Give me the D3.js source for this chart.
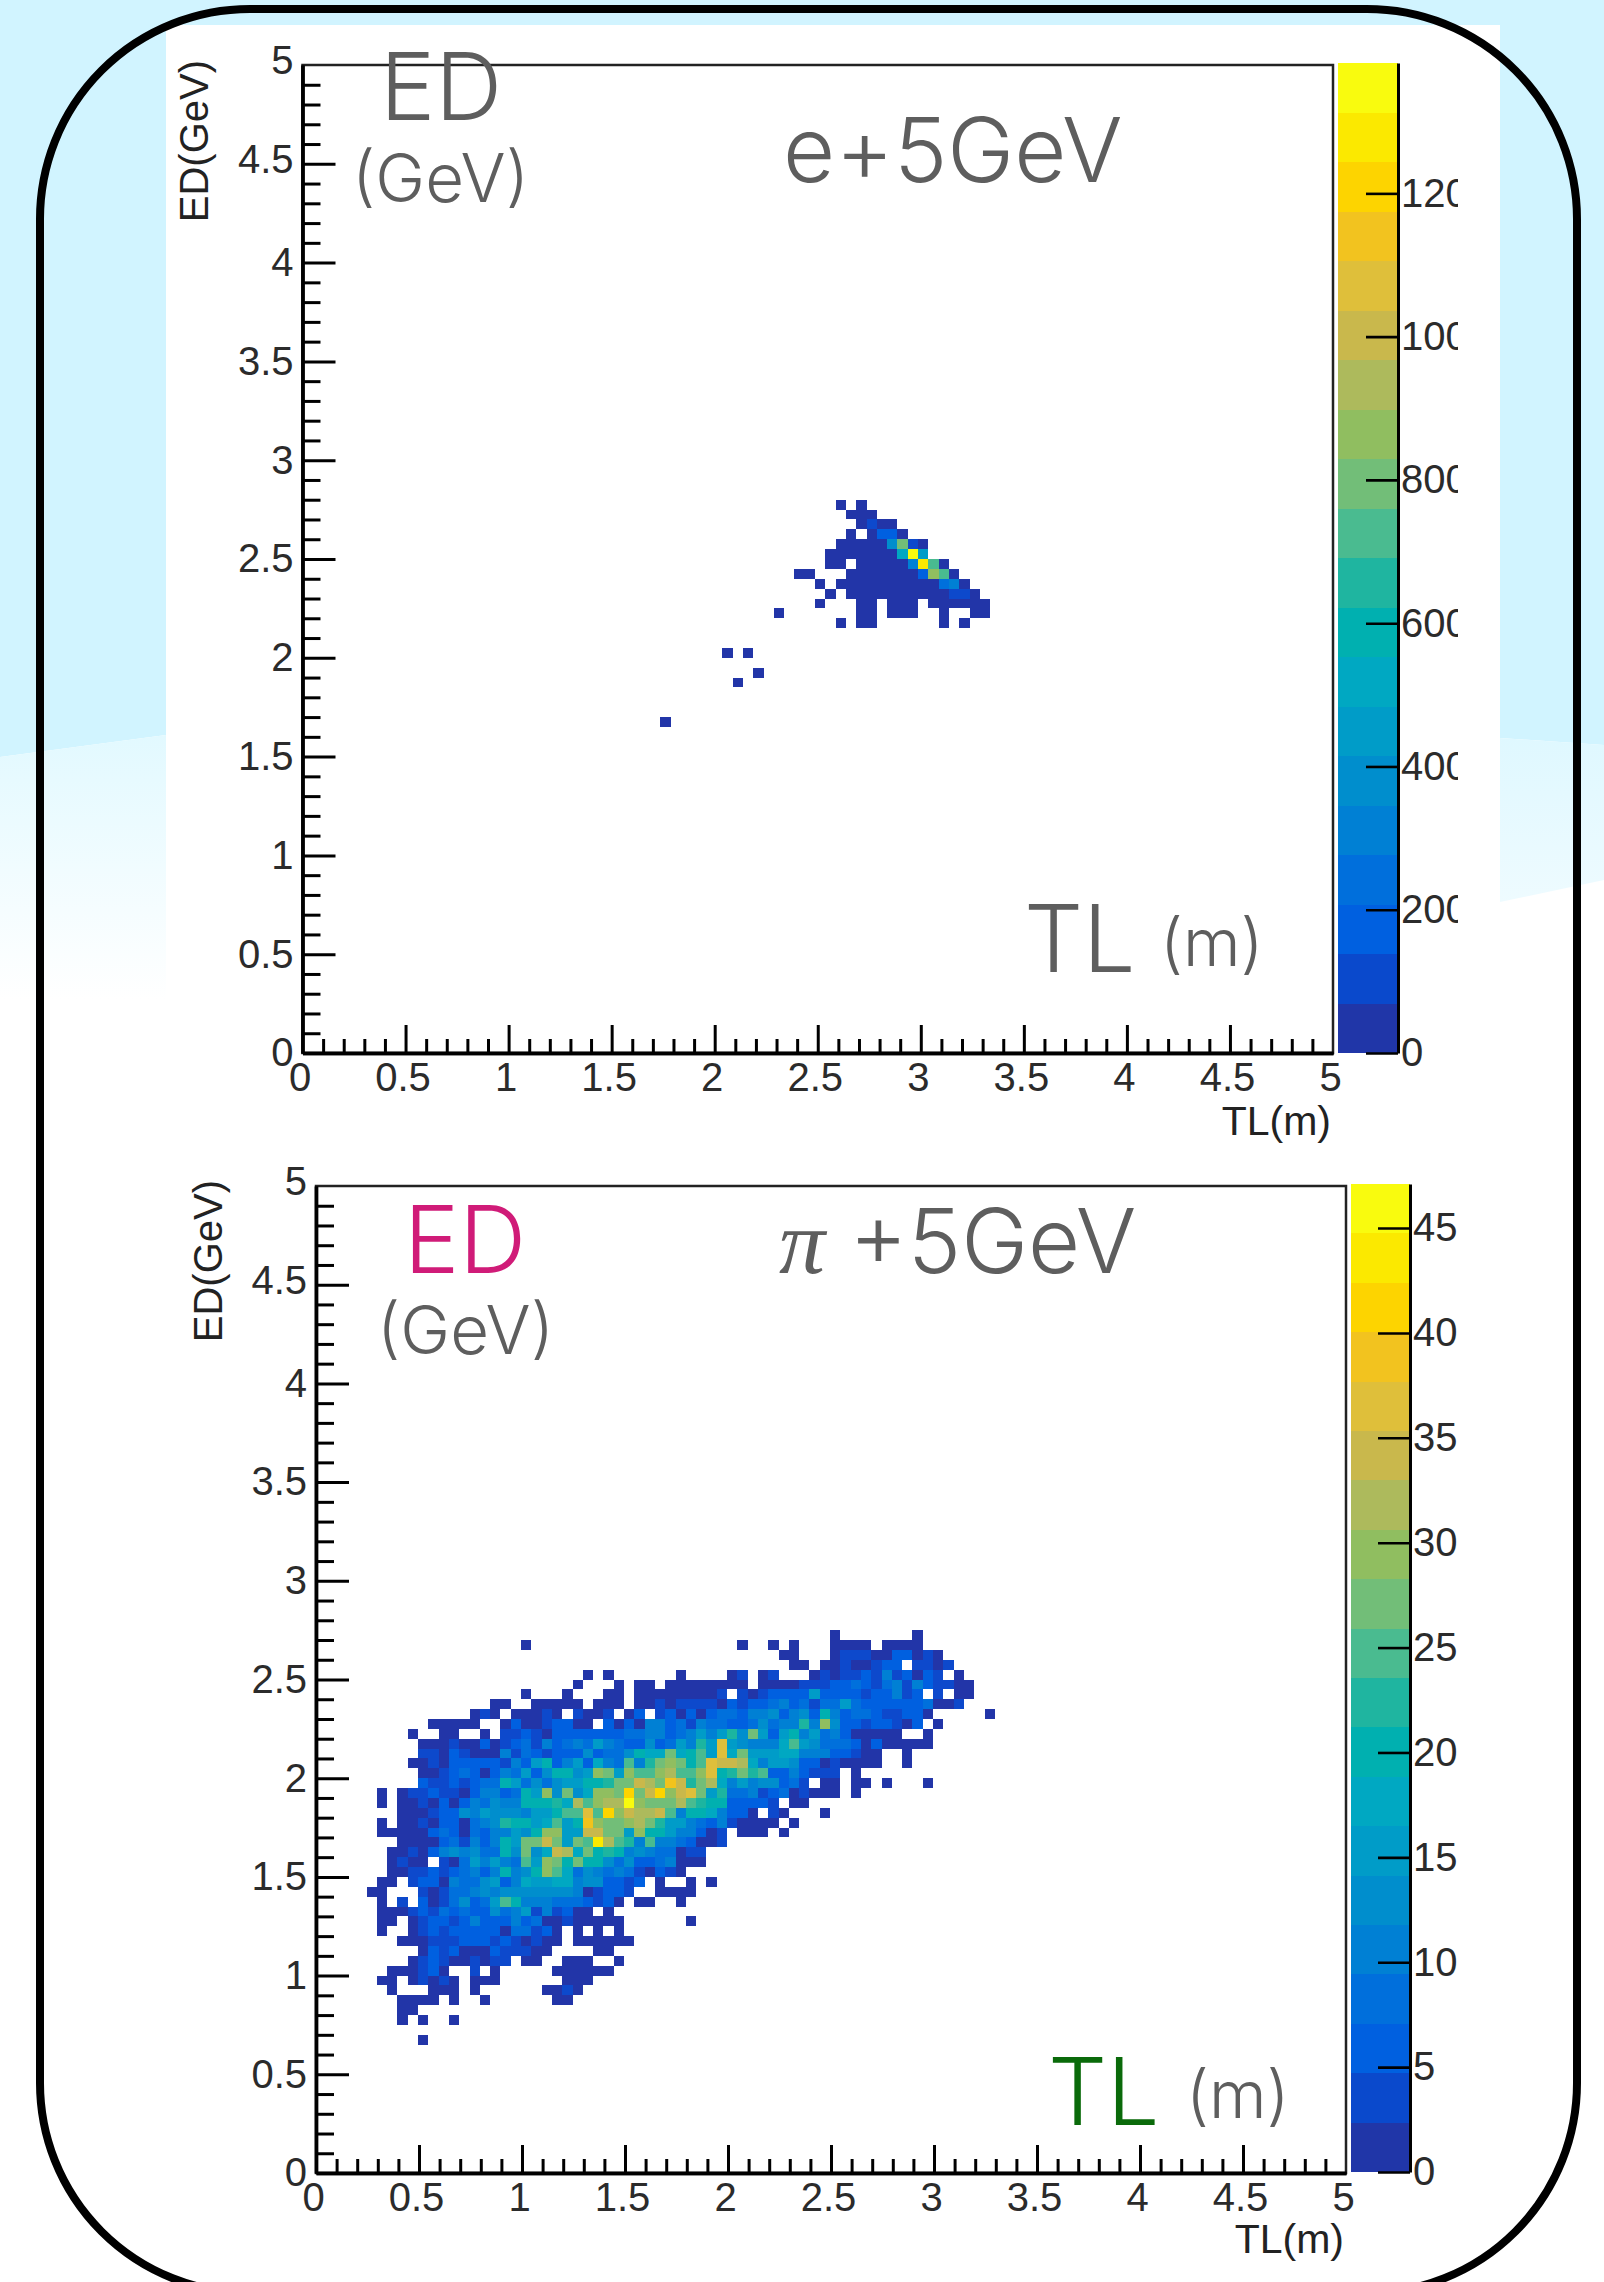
<!DOCTYPE html>
<html>
<head>
<meta charset="utf-8">
<script src="https://cdn.jsdelivr.net/npm/d3@7"></script>
<style>
html, body { margin: 0; padding: 0; background: #fff; overflow: hidden; }
text { font-family: "Liberation Sans", sans-serif; }
.axis text { font-size: 40px; fill: #2b2b2b; }
.note { font-family: "Inter", "Liberation Sans", sans-serif; font-weight: 300; fill: #5e5e5e; }
</style>
</head>
<body>
<div id="chart"></div>
<script>
const width = 1604;
const height = 2282;

// ROOT "bird" palette, 20 contour levels, low to high
const palette = ["#2036a8", "#0a49cc", "#0060e0", "#006fdc", "#0080d4", "#008ecd", "#009cc8", "#00a8c2",
  "#00b0b0", "#1fb5a0", "#4abb90", "#72be78", "#90be60", "#adba5c", "#c9b84c", "#dfbf3a",
  "#f2c31f", "#fdd400", "#fbe900", "#f9fb0e"];

const axisTicks = [0, 0.5, 1, 1.5, 2, 2.5, 3, 3.5, 4, 4.5, 5];
const axisMinor = d3.range(0, 51).filter(d => d % 5 !== 0).map(d => d / 10);
const binWidth = 0.05;
const eBarTicks = [0, 200, 400, 600, 800, 1000, 1200];
const piBarTicks = [0, 5, 10, 15, 20, 25, 30, 35, 40, 45];
const eMax = 1382;
const piMax = 47.1;

// histogram segments: [ED bin, first TL bin, contents of consecutive TL bins]
const eRows = [
  [55, 52, [12]], [55, 54, [8]],
  [54, 53, [14, 30, 9]],
  [53, 54, [22, 95, 18, 11]],
  [52, 53, [10]], [52, 55, [25, 170, 175, 40]],
  [51, 52, [9, 14, 20, 35, 48, 380, 800, 105, 30]],
  [50, 51, [8, 15, 12, 20, 25, 33, 50, 520, 1360, 450]],
  [49, 51, [10, 12, 0, 16, 22, 30, 36, 55, 310, 1300, 730, 40]],
  [48, 48, [8, 11]], [48, 53, [13, 19, 26, 33, 28, 45, 60, 170, 870, 740, 15]],
  [47, 50, [7]], [47, 52, [9, 14, 20, 24, 31, 36, 40, 44, 50, 52, 240, 310, 18]],
  [46, 51, [6]], [46, 53, [9, 12, 17, 24, 30, 26, 35, 41, 38, 55, 110, 105, 15]],
  [45, 50, [5]], [45, 54, [11, 8]], [45, 57, [9, 14, 10]], [45, 61, [12, 20, 25, 30, 18, 6]],
  [44, 46, [4]], [44, 54, [7, 6]], [44, 57, [8, 12, 9]], [44, 62, [6]], [44, 65, [7, 5]],
  [43, 52, [5]], [43, 54, [4, 6]], [43, 62, [5]], [43, 64, [4]],
  [40, 41, [3]], [40, 43, [3]], [38, 44, [2]], [37, 42, [2]], [33, 35, [1]]
];

const piRows = [
  [54, 50, [1]], [54, 58, [1]],
  [53, 20, [1]], [53, 41, [1]], [53, 44, [1]], [53, 46, [1]], [53, 50, [2, 1, 1, 2]], [53, 55, [1, 2, 1, 1]],
  [52, 45, [1, 2]], [52, 50, [1, 3, 4, 3, 1, 2, 6, 7, 2, 3, 1]],
  [51, 46, [1, 1]], [51, 49, [1, 2, 3, 1, 2, 4, 6, 5, 0, 3, 4, 1, 3]],
  [50, 26, [1]], [50, 28, [1]], [50, 35, [1]], [50, 40, [1, 3]], [50, 43, [2, 4]],
  [50, 48, [1, 3, 2, 3, 4, 6, 3, 10, 4, 6, 1, 6, 3, 0, 1]],
  [49, 25, [1]], [49, 29, [1]], [49, 31, [1, 2]], [49, 34, [1, 1, 2, 1, 1, 2, 1, 1]],
  [49, 43, [1, 2, 1, 1, 3, 3, 4, 6, 6, 8, 6, 3, 8, 10, 3, 10, 6, 3, 4, 1, 2]],
  [48, 20, [1]], [48, 24, [1]], [48, 28, [1, 2]],
  [48, 31, [1, 2, 1, 1, 2, 1, 1, 2, 3, 0, 3, 1, 4, 6, 5, 6, 7, 15, 6, 5, 6, 7, 3, 6, 5, 10, 3, 6, 0, 3, 0, 1, 2]],
  [47, 17, [1, 2]], [47, 21, [1, 2, 1, 1, 2]], [47, 27, [1, 2, 1]],
  [47, 31, [1, 2, 3, 1, 3, 4, 3, 3, 2, 6, 3, 5, 6, 8, 10, 6, 8, 4, 9, 8, 15, 8, 6, 5, 6, 7, 6, 5, 8, 1, 2, 3]],
  [46, 15, [1, 3, 2, 0, 1, 2, 1, 3, 1, 0, 4, 1, 2, 3, 0, 1, 6, 0, 3, 6, 1, 5, 1, 6, 8, 8, 5, 10, 11, 13, 5, 10, 13, 6, 20, 10, 6, 8, 9, 5, 3, 4, 6, 5, 1]], [46, 65, [2]],
  [45, 11, [1, 2, 1, 1, 2, 0, 0, 1, 6, 2, 1, 3, 5, 6, 1, 2, 0, 6, 1, 5, 1, 10, 11, 6, 8, 4, 10, 8, 9, 5, 6, 8, 13, 9, 10, 11, 22, 10, 30, 13, 6, 5, 3, 6, 5, 4, 1, 6, 0, 1]],
  [44, 9, [1]], [44, 12, [1, 2]], [44, 16, [1]],
  [44, 18, [3, 4, 5, 3, 1, 6, 5, 6, 7, 6, 5, 6, 8, 8, 10, 11, 6, 8, 10, 15, 11, 16, 22, 13, 27, 15, 6, 16, 20, 11, 15, 9, 10, 5, 1, 2, 1, 1, 2, 0, 0, 1]],
  [43, 10, [1, 2, 1, 3, 1, 2, 6, 1, 4, 6, 8, 3, 10, 5, 9, 11, 8, 16, 10, 8, 6, 5, 13, 6, 8, 15, 10, 22, 15, 37, 16, 13, 10, 11, 10, 18, 25, 15, 13, 8, 9, 8, 6, 2, 5, 1, 2, 1, 1, 2]],
  [42, 10, [3, 4, 1, 6, 3, 2, 1, 1, 10, 4, 8, 6, 3, 5, 6, 7, 13, 6, 8, 9, 13, 20, 18, 17, 27, 18, 20, 25, 15, 37, 18, 27, 15, 16, 15, 18, 17, 10, 11, 10, 6, 5, 3, 1, 2]], [42, 57, [1]],
  [41, 9, [1, 2, 3, 1, 5, 6, 7, 6, 5, 4, 10, 6, 15, 20, 6, 10, 16, 5, 18, 10, 8, 25, 11, 22, 27, 30, 28, 19, 25, 37, 34, 35, 32, 18, 10, 15, 16, 13, 6, 5, 1, 3, 1, 2, 1, 1]], [41, 57, [2]],
  [40, 10, [1, 2, 3, 6, 8, 5, 1, 6, 10, 9, 15, 6, 13, 20, 19, 14, 16, 29, 27, 15, 30, 24, 25, 30, 32, 24, 25, 29, 36, 20, 22, 27, 22, 25, 6, 5, 10, 6, 3, 4, 3]], [40, 52, [1]],
  [39, 10, [5, 3, 4, 6, 3, 7, 8, 9, 20, 16, 8, 13, 9, 14, 15, 16, 21, 20, 22, 27, 28, 34, 32, 28, 39, 33, 22, 27, 31, 18, 10, 15, 11, 13, 14, 6, 8, 3, 0, 1, 2, 0, 1, 1]], [39, 55, [1]], [39, 59, [1]],
  [38, 6, [1]], [38, 8, [1, 3, 4, 6, 3, 4, 1, 6, 10, 11, 6, 8, 20, 16, 29, 13, 27, 14, 18, 30, 29, 28, 42, 27, 34, 42, 30, 33, 37, 26, 15, 22, 8, 9, 10, 3, 6, 8, 1, 4, 1, 2, 1]], [38, 52, [1]],
  [37, 6, [1]], [37, 8, [1, 2, 3, 1, 6, 2, 5, 10, 8, 13, 11, 10, 20, 19, 21, 22, 18, 32, 25, 29, 31, 32, 47, 30, 27, 28, 26, 32, 24, 22, 20, 21, 6, 5, 7, 5, 3, 0, 1, 2]],
  [36, 8, [1, 2, 1, 3, 6, 5, 13, 11, 15, 13, 14, 12, 10, 16, 15, 20, 25, 24, 37, 25, 42, 30, 34, 32, 31, 35, 25, 10, 20, 19, 18, 11, 5, 6, 1, 0, 4, 1]], [36, 49, [1]],
  [35, 6, [1]], [35, 8, [1, 2, 3, 1, 5, 6, 2, 9, 10, 13, 23, 20, 21, 15, 18, 25, 16, 19, 39, 29, 28, 27, 30, 32, 26, 22, 16, 15, 11, 8, 6, 10, 4, 1, 2, 1, 1, 0, 1]],
  [34, 6, [1, 2, 1, 1, 2, 6, 8, 5, 1, 9, 7, 11, 10, 15, 13, 20, 30, 29, 16, 15, 34, 35, 27, 28, 15, 30, 20, 21, 15, 10, 11, 6, 1, 4, 0, 1, 2, 1, 0, 1]],
  [33, 8, [1, 2, 1, 1, 6, 8, 3, 10, 5, 11, 20, 16, 27, 28, 34, 26, 15, 27, 24, 44, 32, 25, 22, 10, 25, 10, 11, 8, 6, 1, 2, 3]],
  [32, 7, [1, 2, 3, 1, 6, 11, 13, 10, 14, 8, 9, 20, 13, 28, 12, 18, 34, 32, 17, 27, 21, 22, 19, 10, 13, 10, 8, 9, 2, 3, 4]],
  [31, 7, [1, 3, 1, 2, 0, 4, 1, 9, 15, 10, 16, 11, 8, 25, 15, 30, 28, 20, 26, 19, 21, 13, 9, 14, 6, 5, 8, 10, 1, 2, 1]],
  [30, 7, [1, 2, 3, 4, 6, 3, 5, 8, 10, 6, 11, 20, 10, 13, 21, 29, 25, 18, 9, 12, 11, 8, 10, 9, 3, 1, 6, 4, 2]],
  [29, 6, [1, 2, 0, 3, 5, 6, 1, 10, 8, 9, 13, 15, 7, 11, 18, 15, 16, 17, 18, 10, 12, 13, 6, 5, 4, 6, 0, 1]], [29, 36, [1]], [29, 38, [1]],
  [28, 5, [1, 2]], [28, 10, [3, 1, 4, 8, 9, 10, 13, 11, 13, 14, 12, 13, 13, 14, 12, 10, 2, 3, 5, 6, 4]], [28, 33, [1, 2, 1, 1]],
  [27, 6, [1, 0, 3, 0, 5, 2, 4, 8, 13, 6, 9, 15, 25, 20, 10, 11, 10, 9, 8, 8, 5, 3, 6, 1]], [27, 31, [1, 2]], [27, 35, [1]],
  [26, 6, [1, 2, 1, 3, 5, 4, 8, 6, 9, 5, 6, 13, 8, 10, 15, 3, 11, 4, 6, 1, 2, 0, 1]],
  [25, 6, [1, 1, 0, 2, 3, 5, 6, 4, 6, 10, 5, 6, 7, 10, 6, 8, 1, 2, 3, 1, 2, 1, 1, 1]], [25, 36, [1]],
  [24, 6, [2]], [24, 9, [1, 3, 5, 4, 6, 5, 6, 7, 5, 2, 8, 9, 3, 6, 1, 0, 2, 0, 1, 0, 1]],
  [23, 8, [1, 2, 1, 3, 4, 3, 5, 6, 5, 4, 6, 3, 2, 4, 1, 1, 0, 2, 1, 1, 1, 2, 1]],
  [22, 10, [2, 6, 4, 5, 1, 2, 1, 6, 3, 4, 3, 2, 1]], [22, 27, [2, 1]],
  [21, 9, [2, 3, 5, 4, 1, 2, 4, 1, 3, 4, 0, 1, 2]], [21, 24, [2, 1, 2]], [21, 29, [1]],
  [20, 7, [1, 1, 2, 3, 6, 2]], [20, 15, [3]], [20, 17, [1]], [20, 23, [1, 2, 1, 2, 1, 1]],
  [19, 6, [1, 2]], [19, 9, [1, 4, 2, 3, 1]], [19, 15, [2, 1, 1]], [19, 24, [1, 2, 1]],
  [18, 7, [1]], [18, 11, [1, 2, 1]], [18, 15, [1]], [18, 22, [1, 2, 3, 1]],
  [17, 8, [1, 2, 1, 1]], [17, 13, [1]], [17, 16, [1]], [17, 23, [1, 2]],
  [16, 8, [1, 2]],
  [15, 8, [1]], [15, 10, [1]], [15, 13, [1]],
  [13, 10, [1]]
];

const svg = d3.select("#chart").append("svg")
  .attr("width", width)
  .attr("height", height)
  .style("display", "block");

const defs = svg.append("defs");

// reference is an upscaled bitmap, so the cell edges are a little soft
defs.append("filter").attr("id", "soft")
  .append("feGaussianBlur").attr("stdDeviation", 0.7);

// slide background behind the plots
const fadeLeft = defs.append("linearGradient").attr("id", "fadeLeft").attr("x1", 0).attr("x2", 0).attr("y1", 0).attr("y2", 1);
fadeLeft.append("stop").attr("offset", 0).attr("stop-color", "#e2f9ff");
fadeLeft.append("stop").attr("offset", 1).attr("stop-color", "#ffffff");
const fadeRight = defs.append("linearGradient").attr("id", "fadeRight").attr("x1", 0).attr("x2", 0).attr("y1", 0).attr("y2", 1);
fadeRight.append("stop").attr("offset", 0).attr("stop-color", "#dff8ff");
fadeRight.append("stop").attr("offset", 1).attr("stop-color", "#eefbff");

svg.append("rect").attr("width", width).attr("height", height).attr("fill", "#fff");
svg.append("path").attr("d", "M0,0H1604V745L1500,738V25H166V735L0,757Z").attr("fill", "#d1f4ff");
svg.append("path").attr("d", "M0,757L166,735V1000H0Z").attr("fill", "url(#fadeLeft)");
svg.append("path").attr("d", "M1500,738L1604,745V880L1500,902Z").attr("fill", "url(#fadeRight)");

function drawPanel(p) {
  const g = svg.append("g");
  const x = d3.scaleLinear().domain([0, 5]).range([p.left, p.right]);
  const y = d3.scaleLinear().domain([0, 5]).range([p.bottom, p.top]);
  const z = d3.scaleLinear().domain([0, p.zMax]).range([p.barBottom, p.barTop]);
  const colour = d3.scaleQuantize().domain([0, p.zMax]).range(palette);

  const cells = p.rows.flatMap(([ed, tl, counts]) =>
    counts.map((n, k) => ({ ed: ed, tl: tl + k, n: n }))).filter(d => d.n > 0);

  const cellW = x(binWidth) - x(0);
  const cellH = y(0) - y(binWidth);
  g.append("g")
    .attr("filter", "url(#soft)")
    .attr("shape-rendering", "crispEdges")
    .selectAll("rect")
    .data(cells)
    .join("rect")
    .attr("x", d => x(d.tl * binWidth) + p.cellShift)
    .attr("y", d => y((d.ed + 1) * binWidth))
    .attr("width", cellW)
    .attr("height", cellH)
    .attr("fill", d => colour(d.n));

  // frame, top and right are thinner than the axes
  g.append("rect")
    .attr("x", x(0)).attr("y", y(5))
    .attr("width", x(5) - x(0)).attr("height", y(0) - y(5))
    .attr("fill", "none").attr("stroke", "#222").attr("stroke-width", 2.5);

  const xAxis = g.append("g").attr("class", "axis")
    .attr("transform", `translate(0, ${y(0)})`)
    .call(d3.axisBottom(x).tickValues(axisTicks).tickFormat(d3.format("")).tickSizeInner(-28).tickSizeOuter(0).tickPadding(10));
  const xMinor = g.append("g").attr("transform", `translate(0, ${y(0)})`)
    .call(d3.axisBottom(x).tickValues(axisMinor).tickFormat("").tickSizeInner(-14).tickSizeOuter(0));
  const yAxis = g.append("g").attr("class", "axis")
    .attr("transform", `translate(${x(0)}, 0)`)
    .call(d3.axisLeft(y).tickValues(axisTicks).tickFormat(d3.format("")).tickSizeInner(-33).tickSizeOuter(0).tickPadding(9));
  const yMinor = g.append("g").attr("transform", `translate(${x(0)}, 0)`)
    .call(d3.axisLeft(y).tickValues(axisMinor).tickFormat("").tickSizeInner(-18).tickSizeOuter(0));

  [xAxis, xMinor, yAxis, yMinor].forEach(a => {
    a.selectAll(".tick line").attr("stroke", "#000").attr("stroke-width", 3);
    a.select(".domain").attr("stroke", "#000").attr("stroke-width", 3.4);
  });
  yAxis.selectAll(".tick").filter(d => d === 0 || d === 5).select("line").remove();
  xAxis.selectAll(".tick").filter(d => d === 0 || d === 5).select("line").remove();
  xAxis.selectAll(".tick text").attr("dx", -3);
  yAxis.selectAll(".tick").filter(d => d >= 4.5).select("text").attr("dy", "0.22em");

  // axis titles
  g.append("text")
    .attr("transform", `translate(${p.yTitleX}, ${p.yTitleY}) rotate(-90)`)
    .attr("text-anchor", "end")
    .attr("font-size", 40)
    .attr("fill", "#222")
    .text("ED(GeV)");
  g.append("text")
    .attr("x", x(5) - 2)
    .attr("y", p.xTitleY)
    .attr("text-anchor", "end")
    .attr("font-size", 41)
    .attr("fill", "#222")
    .text("TL(m)");

  // colour bar
  const levelH = (p.barBottom - p.barTop) / palette.length;
  g.append("g")
    .attr("shape-rendering", "crispEdges")
    .selectAll("rect")
    .data(palette)
    .join("rect")
    .attr("x", p.barLeft)
    .attr("width", p.barRight - p.barLeft)
    .attr("y", d => z(colour.invertExtent(d)[1]))
    .attr("height", levelH)
    .attr("fill", d => d);

  const zAxis = g.append("g").attr("class", "axis")
    .attr("transform", `translate(${p.barRight}, 0)`)
    .call(d3.axisRight(z).tickValues(p.barTicks).tickFormat(d3.format("")).tickSizeInner(-32).tickSizeOuter(0).tickPadding(3));
  zAxis.selectAll(".tick line").attr("stroke", "#000").attr("stroke-width", 2.6);
  zAxis.select(".domain").attr("stroke", "#000").attr("stroke-width", 3);

  // labels of the bar are cut by the pad edge, as in the ROOT canvas
  const clipId = "labelClip" + p.barLeft;
  defs.append("clipPath").attr("id", clipId).append("rect")
    .attr("x", -40).attr("y", -40)
    .attr("width", p.labelClip - p.barRight + 40).attr("height", 80);
  zAxis.selectAll(".tick").attr("clip-path", `url(#${clipId})`);

  // hand-written slide annotations
  p.notes.forEach(n => {
    g.append("text")
      .attr("class", "note")
      .attr("x", n.x).attr("y", n.y)
      .attr("font-size", n.size)
      .style("fill", n.color || null)
      .style("font-family", n.font || null)
      .style("font-style", n.font ? "italic" : null)
      .style("font-weight", n.font ? 400 : null)
      .text(n.text);
  });
}

drawPanel({
  left: 302.5, right: 1333, top: 65, bottom: 1053, rows: eRows, zMax: eMax, cellShift: -2.7,
  yTitleX: 208, yTitleY: 60, xTitleY: 1135,
  barLeft: 1338, barRight: 1398, barTop: 63, barBottom: 1053, barTicks: eBarTicks, labelClip: 1458,
  notes: [
    { text: "ED", x: 380, y: 120, size: 93 },
    { text: "(GeV)", x: 352, y: 202, size: 67 },
    { text: "e+5GeV", x: 783, y: 182, size: 90 },
    { text: "TL", x: 1024, y: 972, size: 93 },
    { text: "(m)", x: 1160, y: 966, size: 66 }
  ]
});

drawPanel({
  left: 316, right: 1346, top: 1186, bottom: 2173, rows: piRows, zMax: piMax, cellShift: -1,
  yTitleX: 222, yTitleY: 1180, xTitleY: 2253,
  barLeft: 1351, barRight: 1410, barTop: 1184, barBottom: 2172, barTicks: piBarTicks, labelClip: 1470,
  notes: [
    { text: "ED", x: 404, y: 1273, size: 93, color: "#d01b78" },
    { text: "(GeV)", x: 377, y: 1354, size: 67 },
    { text: "π", x: 779, y: 1273, size: 92, font: "'Liberation Serif', serif" },
    { text: "+5GeV", x: 849, y: 1273, size: 90 },
    { text: "TL", x: 1048, y: 2125, size: 93, color: "#0a6a0a" },
    { text: "(m)", x: 1186, y: 2118, size: 66 }
  ]
});

// rounded slide frame on top, its bottom edge runs off the page
svg.append("rect")
  .attr("x", 40).attr("y", 9)
  .attr("width", 1537).attr("height", 2284)
  .attr("rx", 210).attr("ry", 210)
  .attr("fill", "none")
  .attr("stroke", "#000")
  .attr("stroke-width", 8);
</script>
</body>
</html>
